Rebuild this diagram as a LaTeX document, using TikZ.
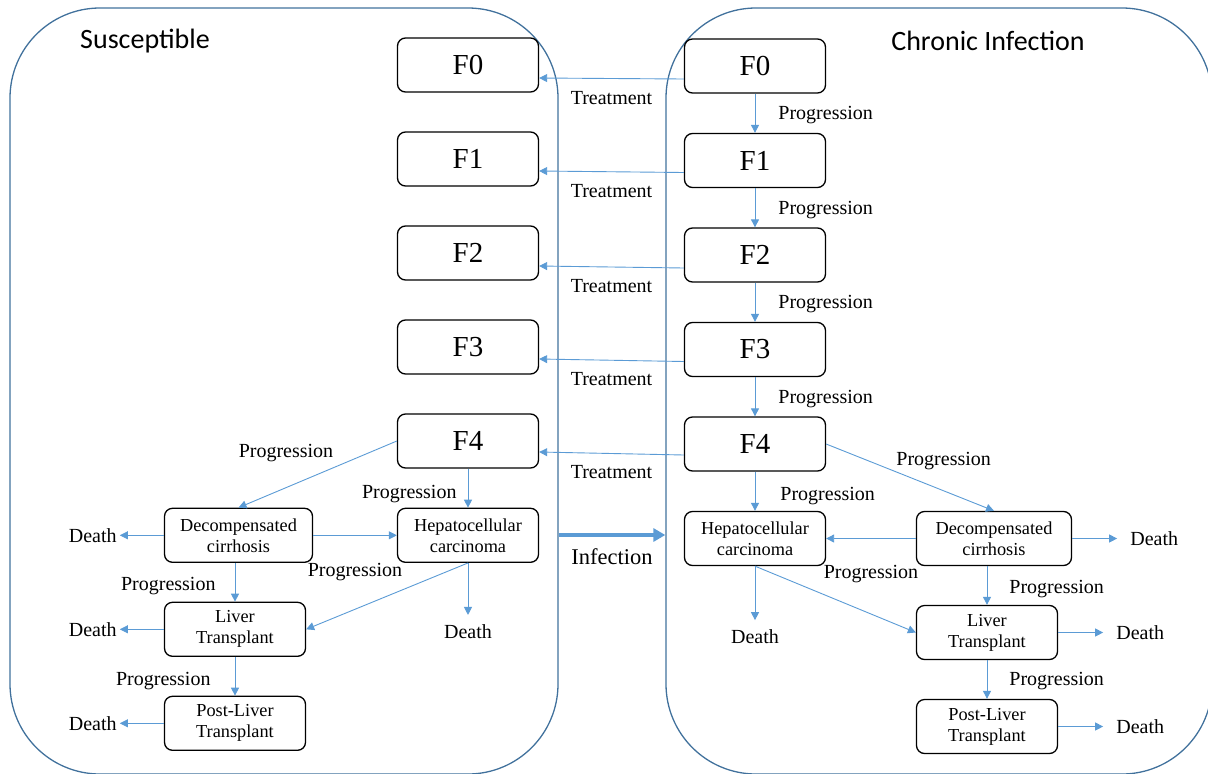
\documentclass[tikz,border=0pt]{standalone}
\usepackage{fontspec}
\setmainfont{Liberation Serif}
\setsansfont{Carlito}
\usepackage{tikz}
\usetikzlibrary{positioning}
\usetikzlibrary{calc}
\usetikzlibrary{arrows.meta}

\definecolor{frameBlue}{HTML}{41719C}
\definecolor{flowBlue}{HTML}{5B9BD5}

\tikzset{
	compartment/.style={draw=frameBlue, line width=1.3pt, rounded corners=90pt, inner sep=0pt},
	title/.style={font=\sffamily\fontsize{28}{32}\selectfont},
	stage/.style={draw, line width=1.3pt, rounded corners=8pt, minimum width=141pt, minimum height=54pt, inner sep=0pt, font=\fontsize{29}{32}\selectfont},
	state/.style={draw, line width=1.3pt, rounded corners=8pt, minimum width=141pt, minimum height=54pt, inner sep=0pt, align=center, font=\fontsize{18.3}{21}\selectfont},
	fate/.style={inner sep=3pt, font=\fontsize{20}{22}\selectfont},
	lbl/.style={inner sep=3pt, font=\fontsize{20}{22}\selectfont},
	flow/.style={draw=flowBlue, line width=0.9pt, -{Triangle[length=8pt, width=8pt]}},
	infect/.style={draw=flowBlue, line width=4pt, -{Triangle[length=12pt, width=13pt]}}
}

\begin{document}
\begin{tikzpicture}[x=1pt, y=-1pt]
\useasboundingbox (0, 0) rectangle (1208, 774);

% compartments
\node[
	compartment,
	minimum width=548pt,
	minimum height=766pt
] (susceptible) at (284, 391) {};

\node[
	compartment,
	minimum width=546pt,
	minimum height=766pt
] (chronic) at (939, 391) {};

\node[title] (suscTitle) at (145, 41) {Susceptible};
\node[title] (chronTitle) at (988, 41) {Chronic Infection};

% fibrosis stages
\node[stage] (suscF0) at (468, 65) {F0};
\node[stage, below=38.7pt of suscF0] (suscF1) {F1};
\node[stage, below=38.7pt of suscF1] (suscF2) {F2};
\node[stage, below=38.7pt of suscF2] (suscF3) {F3};
\node[stage, below=38.7pt of suscF3] (suscF4) {F4};

\node[stage] (chronF0) at (755, 66) {F0};
\node[stage, below=39.2pt of chronF0] (chronF1) {F1};
\node[stage, below=39.2pt of chronF1] (chronF2) {F2};
\node[stage, below=39.2pt of chronF2] (chronF3) {F3};
\node[stage, below=39.2pt of chronF3] (chronF4) {F4};

% late states
\node[state, below=39pt of suscF4] (suscHcc) {Hepatocellular\\carcinoma};
\node[state, minimum width=148pt, left=83.7pt of suscHcc] (suscDecomp) {Decompensated\\cirrhosis};
\node[state, below=38.7pt of suscDecomp.south west, anchor=north west] (suscLiver) {Liver\\Transplant};
\node[state, below=38.7pt of suscLiver] (suscPost) {Post-Liver\\Transplant};

\node[state, below=39.2pt of chronF4] (chronHcc) {Hepatocellular\\carcinoma};
\node[state, minimum width=155pt, right=89.7pt of chronHcc] (chronDecomp) {Decompensated\\cirrhosis};
\node[state, below=38.7pt of chronDecomp.south west, anchor=north west] (chronLiver) {Liver\\Transplant};
\node[state, below=38.7pt of chronLiver] (chronPost) {Post-Liver\\Transplant};

% deaths
\node[fate, left=44pt of suscDecomp] (suscDecompDeath) {Death};
\node[fate, left=44pt of suscLiver] (suscLiverDeath) {Death};
\node[fate, left=44pt of suscPost] (suscPostDeath) {Death};
\node[fate, below=58pt of suscHcc] (suscHccDeath) {Death};

\node[fate, right=55pt of chronDecomp] (chronDecompDeath) {Death};
\node[fate, right=55pt of chronLiver] (chronLiverDeath) {Death};
\node[fate, right=55pt of chronPost] (chronPostDeath) {Death};
\node[fate, below=60pt of chronHcc] (chronHccDeath) {Death};

% ---

\draw[flow] ($(chronF0.west) + (0, 13)$) -- ($(suscF0.east) + (0, 13)$)
	node[midway, below=9pt, lbl]{Treatment};
\draw[flow] ($(chronF1.west) + (0, 12)$) -- ($(suscF1.east) + (0, 12)$)
	node[midway, below=9pt, lbl]{Treatment};
\draw[flow] ($(chronF2.west) + (0, 13)$) -- ($(suscF2.east) + (0, 13)$)
	node[midway, below=9pt, lbl]{Treatment};
\draw[flow] ($(chronF3.west) + (0, 12)$) -- ($(suscF3.east) + (0, 12)$)
	node[midway, below=9pt, lbl]{Treatment};
\draw[flow] ($(chronF4.west) + (0, 11)$) -- ($(suscF4.east) + (0, 11)$)
	node[midway, below=8pt, lbl]{Treatment};

% ---

\draw[flow] (chronF0) -- (chronF1) node[pos=0.55, right=20pt, lbl]{Progression};
\draw[flow] (chronF1) -- (chronF2) node[pos=0.55, right=20pt, lbl]{Progression};
\draw[flow] (chronF2) -- (chronF3) node[pos=0.55, right=20pt, lbl]{Progression};
\draw[flow] (chronF3) -- (chronF4) node[pos=0.55, right=20pt, lbl]{Progression};
\draw[flow] (chronF4) -- (chronHcc) node[pos=0.62, right=22pt, lbl]{Progression};
\draw[flow] (chronF4.east) -- (chronDecomp.north)
	node[pos=0.7, above=18pt, lbl]{Progression};
\draw[flow] (chronDecomp) -- (chronHcc) node[midway, below=23pt, lbl]{Progression};
\draw[flow] (chronLiver.north |- chronDecomp.south) -- (chronLiver.north)
	node[pos=0.6, right=19pt, lbl]{Progression};
\draw[flow] (chronLiver) -- (chronPost) node[pos=0.55, right=19pt, lbl]{Progression};
\draw[flow] (chronHcc.south) -- (chronLiver.west);

\draw[flow, shorten >=10pt] (chronDecomp) -- (chronDecompDeath);
\draw[flow, shorten >=10pt] (chronLiver) -- (chronLiverDeath);
\draw[flow, shorten >=10pt] (chronPost) -- (chronPostDeath);
\draw[flow, shorten >=6pt] (chronHcc.south) -- (chronHccDeath.north);

% ---

\draw[flow] (suscF4) -- (suscHcc) node[pos=0.65, left=8pt, lbl]{Progression};
\draw[flow] (suscF4.west) -- (suscDecomp.north)
	node[pos=0.7, above=22pt, lbl]{Progression};
\draw[flow] (suscDecomp) -- (suscHcc) node[midway, below=24pt, lbl]{Progression};
\draw[flow] (suscLiver.north |- suscDecomp.south) -- (suscLiver.north)
	node[pos=0.6, left=16pt, lbl]{Progression};
\draw[flow] (suscLiver) -- (suscPost) node[pos=0.62, left=21pt, lbl]{Progression};
\draw[flow] (suscHcc.south) -- (suscLiver.east);

\draw[flow] (suscDecomp) -- (suscDecompDeath);
\draw[flow] (suscLiver) -- (suscLiverDeath);
\draw[flow] (suscPost) -- (suscPostDeath);
\draw[flow, shorten >=6pt] (suscHcc.south) -- (suscHccDeath.north);

% ---

\draw[infect] ($(susceptible.east) + (0, 144)$) -- ($(chronic.west) + (0, 144)$)
	node[midway, below=9pt, inner sep=3pt, font=\fontsize{22.5}{24}\selectfont]{Infection};

\end{tikzpicture}
\end{document}
